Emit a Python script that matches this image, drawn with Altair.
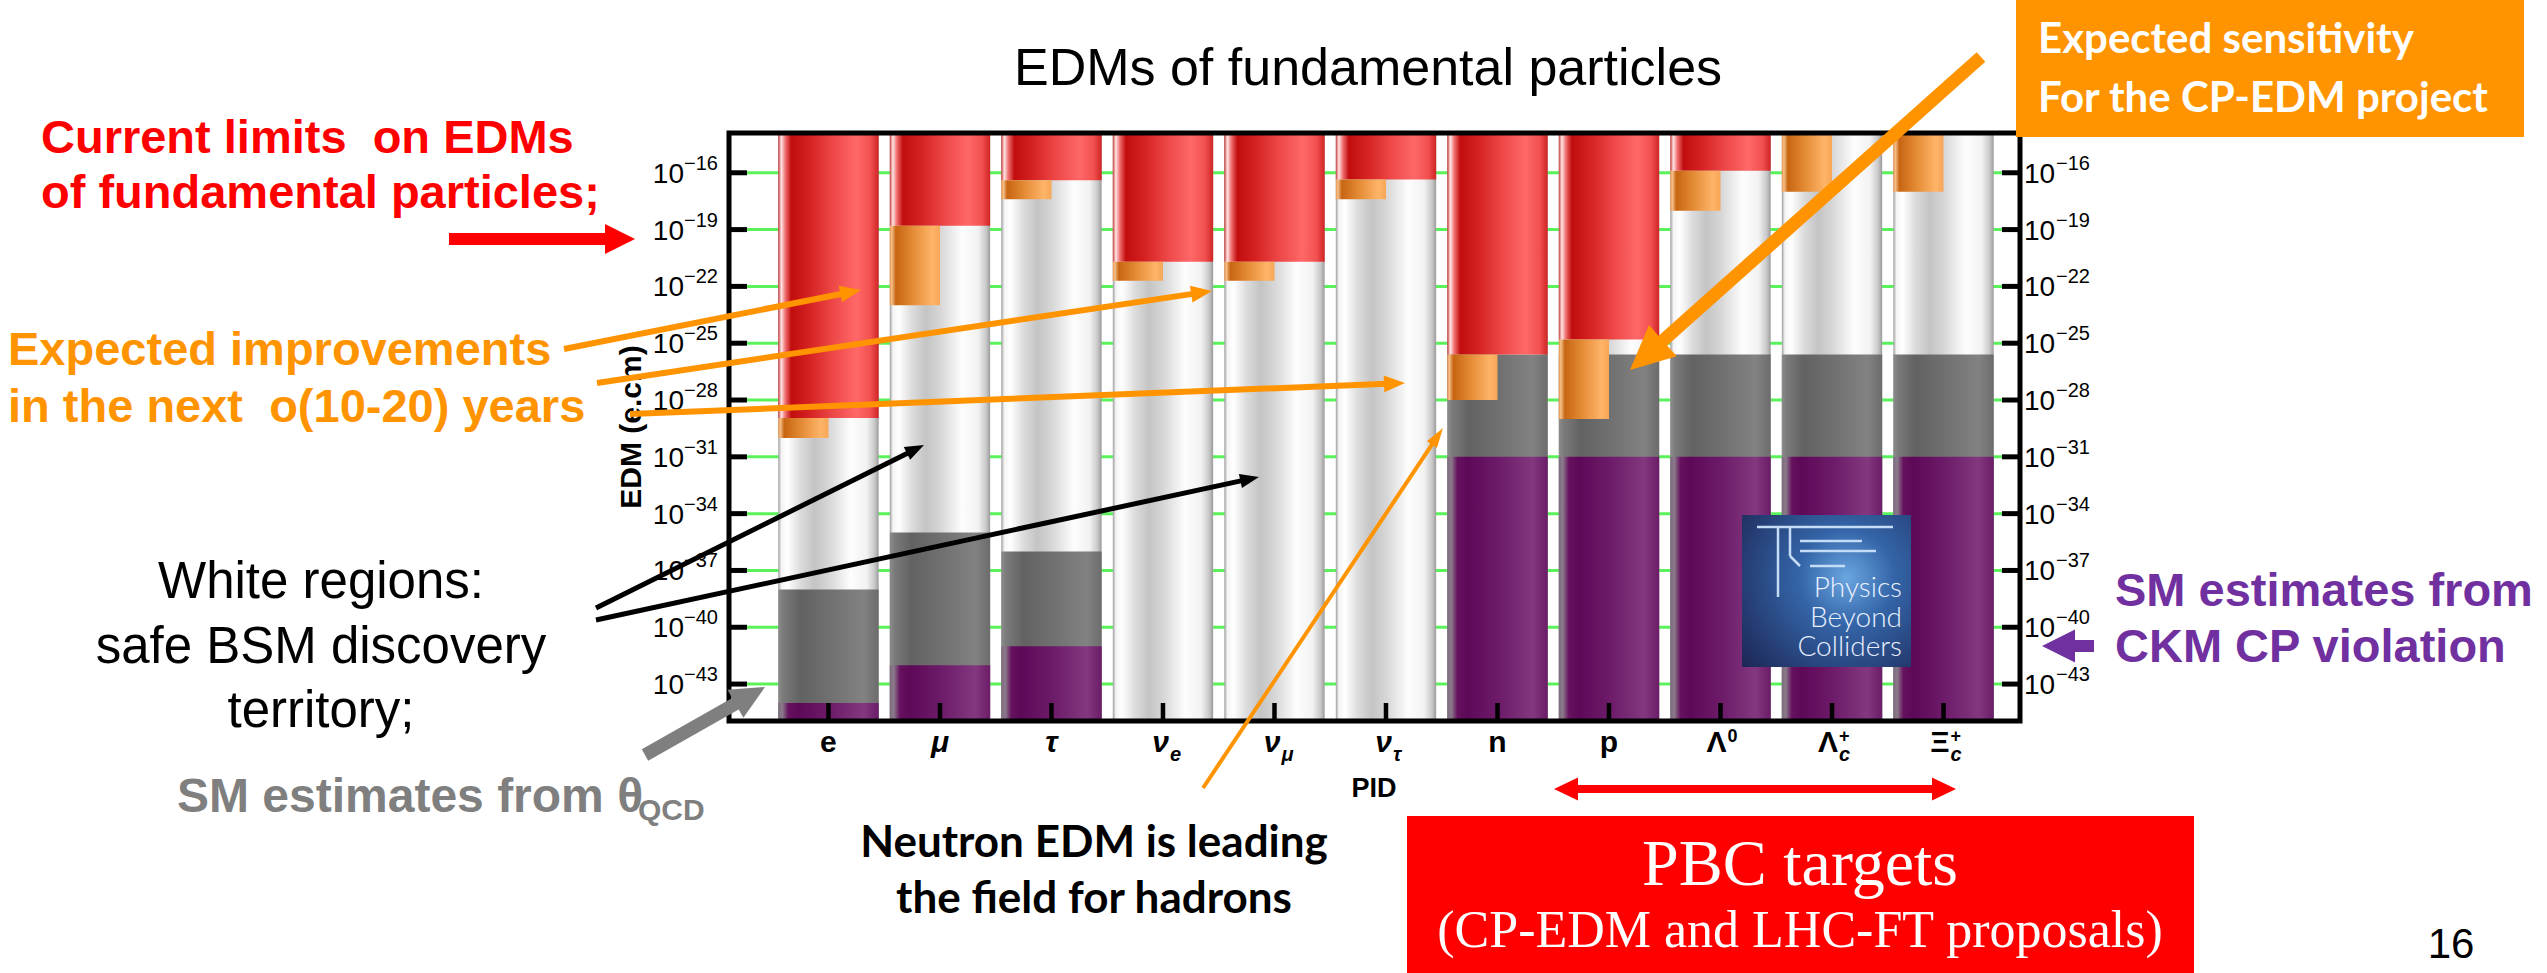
import math
import altair as alt
import pandas as pd

# ------------------------------------------------------------------ data
particles = ["e", "mu", "tau", "nu_e", "nu_mu", "nu_tau", "n", "p",
             "Lambda0", "Lambda_c+", "Xi_c+"]
label_base = ["e", "μ", "τ", "ν", "ν", "ν", "n", "p", "Λ", "Λ", "Ξ"]
label_sub = ["", "", "", "e", "μ", "τ", "", "", "", "c", "c"]
label_sup = ["", "", "", "", "", "", "", "", "0", "+", "+"]

# log10 of the EDM in e·cm (None: no entry for that particle)
current_limit = [-28.95, -18.8, -16.4, -20.7, -20.7, -16.35, -25.6, -24.8, -15.9, None, None]
expected_reach = [-30.0, -23.0, -17.4, -21.7, -21.7, -17.4, -28.0, -29.0, -18.0, -17.0, -17.0]
sm_theta_qcd = [-38.0, -35.0, -36.0, None, None, None, -25.6, -25.6, -25.6, -25.6, -25.6]
sm_ckm = [-44.0, -42.0, -41.0, None, None, None, -31.0, -31.0, -31.0, -31.0, -31.0]

tick_exponents = [-16, -19, -22, -25, -28, -31, -34, -37, -40, -43]

# ------------------------------------------------------------------ layout
LEFT, TOP = 729, 133          # plot origin on the page
W, H = 1291, 588              # plot area
LOG_TOP, LOG_BOTTOM = -13.9, -44.95
HALF = 0.45                   # half bar width in category units

SANS = "Liberation Sans, Arial, Helvetica, sans-serif"
HUMANIST = "Lato, Carlito, Calibri, sans-serif"
SERIF = "Liberation Serif, Times New Roman, serif"

XS = alt.Scale(domain=[0.108, 11.686], nice=False, zero=False)
YS = alt.Scale(type="log", domain=[10 ** LOG_BOTTOM, 10 ** LOG_TOP], nice=False)


def X(f):
    return alt.X(f, scale=XS, axis=None)


def Y(f):
    return alt.Y(f, scale=YS, axis=None)


def PX(f):
    return alt.X(f, scale=None, axis=None)


def PY(f):
    return alt.Y(f, scale=None, axis=None)


def hgrad(stops):
    return alt.LinearGradient(
        gradient="linear",
        stops=[alt.GradientStop(offset=o, color=c) for o, c in stops],
        x1=0, x2=1, y1=0, y2=0,
    )


WHITE = hgrad([(0, "#9c9c9c"), (0.03, "#f4f4f4"), (0.09, "#ffffff"), (0.22, "#dcdcdc"),
               (0.36, "#c4c4c4"), (0.5, "#d6d6d6"), (0.72, "#fdfdfd"), (0.88, "#f2f2f2"),
               (0.96, "#c8c8c8"), (1, "#9a9a9a")])
RED = hgrad([(0, "#c83a3a"), (0.03, "#ffe6e6"), (0.07, "#f07070"), (0.13, "#c10d0d"),
             (0.3, "#d42020"), (0.55, "#ee4848"), (0.78, "#ff6868"), (0.92, "#f25050"),
             (1, "#d02424")])
ORANGE = hgrad([(0, "#e89048"), (0.04, "#f6c08a"), (0.12, "#c76512"), (0.45, "#e38a34"),
                (0.85, "#ffb468"), (1, "#f7a656")])
GRAY = hgrad([(0, "#8c8c8c"), (0.05, "#7a7a7a"), (0.22, "#626262"), (0.55, "#727272"),
              (0.85, "#828282"), (1, "#6c6c6c")])
PURPLE = hgrad([(0, "#7e6c7e"), (0.04, "#8a7a8a"), (0.1, "#66125f"), (0.2, "#5e0858"),
                (0.55, "#6f1e6c"), (0.85, "#82387e"), (1, "#6c1c68")])

# ------------------------------------------------------------------ bar segments
seg_rows = []
for i in range(len(particles)):
    pos = i + 1
    full = (pos - HALF, pos + HALF)
    left_half = (pos - HALF, pos)
    seg_rows.append(("column", *full, LOG_BOTTOM, LOG_TOP))
    if sm_theta_qcd[i] is not None:
        seg_rows.append(("theta", *full, LOG_BOTTOM, sm_theta_qcd[i]))
    if sm_ckm[i] is not None:
        seg_rows.append(("ckm", *full, LOG_BOTTOM, sm_ckm[i]))
    if current_limit[i] is not None:
        seg_rows.append(("limit", *full, current_limit[i], LOG_TOP))
    upper = current_limit[i] if current_limit[i] is not None else LOG_TOP
    seg_rows.append(("reach", *left_half, expected_reach[i], upper))
seg = pd.DataFrame(seg_rows, columns=["kind", "x0", "x1", "lo", "hi"])
seg["lo"] = 10.0 ** seg["lo"]
seg["hi"] = 10.0 ** seg["hi"]


def seg_layer(kind, fill):
    return (alt.Chart(seg[seg["kind"] == kind])
            .mark_rect(color=fill)
            .encode(x=X("x0:Q"), x2="x1:Q", y=Y("lo:Q"), y2="hi:Q"))


ticks = pd.DataFrame({
    "v": [10.0 ** e for e in tick_exponents],
    "exp": ["\u2212" + str(-e) for e in tick_exponents],
})

labels = pd.DataFrame({"pos": list(range(1, len(particles) + 1)),
                       "base": label_base, "sub": label_sub, "sup": label_sup})
labels["deco"] = (labels["sub"] != "") | (labels["sup"] != "")
labels["italic"] = labels["base"].isin(["μ", "τ", "ν"])

one = pd.DataFrame({"k": [0]})

layers = []

# green grid lines behind the bars
layers.append(alt.Chart(ticks).mark_rule(color="#5af25a", strokeWidth=3)
              .encode(y=Y("v:Q"), x=alt.value(0), x2=alt.value(W)))

layers += [seg_layer("column", WHITE), seg_layer("theta", GRAY), seg_layer("ckm", PURPLE),
           seg_layer("limit", RED), seg_layer("reach", ORANGE)]

# inward ticks on both vertical axes and the category axis
layers.append(alt.Chart(ticks).mark_rule(color="black", strokeWidth=5)
              .encode(y=Y("v:Q"), x=alt.value(0), x2=alt.value(18)))
layers.append(alt.Chart(ticks).mark_rule(color="black", strokeWidth=5)
              .encode(y=Y("v:Q"), x=alt.value(W - 18), x2=alt.value(W)))
layers.append(alt.Chart(labels).mark_rule(color="black", strokeWidth=4.5)
              .encode(x=X("pos:Q"), y=alt.value(H - 18), y2=alt.value(H)))

# frame
layers.append(alt.Chart(one).mark_rect(fillOpacity=0, stroke="black", strokeWidth=5)
              .encode(x=alt.value(0), x2=alt.value(W), y=alt.value(0), y2=alt.value(H)))

# y tick labels: 10 with a raised exponent
for x10, xexp in ((-45, -45), (W + 4, W + 36)):
    align10 = "right" if x10 < 0 else "left"
    layers.append(alt.Chart(ticks).mark_text(align=align10, baseline="alphabetic", dy=10,
                                             fontSize=28, font=SANS, color="black")
                  .encode(y=Y("v:Q"), x=alt.value(x10), text=alt.value("10")))
    layers.append(alt.Chart(ticks).mark_text(align="left", baseline="alphabetic", dy=-3,
                                             fontSize=20, font=SANS, color="black")
                  .encode(y=Y("v:Q"), x=alt.value(xexp), text="exp:N"))

# particle labels
XL_BASE = 619
for italic in (False, True):
    style = "italic" if italic else "normal"
    plain = labels[(~labels["deco"]) & (labels["italic"] == italic)]
    deco = labels[(labels["deco"]) & (labels["italic"] == italic)]
    if len(plain):
        layers.append(alt.Chart(plain).mark_text(align="center", baseline="alphabetic",
                                                 fontSize=30, fontWeight="bold", fontStyle=style,
                                                 font=SANS, color="black")
                      .encode(x=X("pos:Q"), y=alt.value(XL_BASE), text="base:N"))
    if len(deco):
        layers.append(alt.Chart(deco).mark_text(align="right", baseline="alphabetic", dx=6,
                                                fontSize=30, fontWeight="bold", fontStyle=style,
                                                font=SANS, color="black")
                      .encode(x=X("pos:Q"), y=alt.value(XL_BASE), text="base:N"))
layers.append(alt.Chart(labels[labels["sub"] != ""])
              .mark_text(align="left", baseline="alphabetic", dx=7, fontSize=20,
                         fontWeight="bold", fontStyle="italic", font=SANS, color="black")
              .encode(x=X("pos:Q"), y=alt.value(XL_BASE + 9), text="sub:N"))
layers.append(alt.Chart(labels[labels["sup"] != ""])
              .mark_text(align="left", baseline="alphabetic", dx=7, fontSize=18,
                         fontWeight="bold", font=SANS, color="black")
              .encode(x=X("pos:Q"), y=alt.value(XL_BASE - 10), text="sup:N"))


# ------------------------------------------------------------------ annotations
def boxes(rows, fill):
    df = pd.DataFrame(rows, columns=["X0", "Y0", "X1", "Y1"])
    df["px0"], df["px1"] = df["X0"] - LEFT, df["X1"] - LEFT
    df["py0"], df["py1"] = df["Y0"] - TOP, df["Y1"] - TOP
    return (alt.Chart(df).mark_rect(color=fill)
            .encode(x=PX("px0:Q"), x2="px1:Q", y=PY("py0:Q"), y2="py1:Q"))


def texts(rows, **style):
    df = pd.DataFrame(rows, columns=["t", "X", "Y"])
    df["px"] = df["X"] - LEFT
    df["py"] = df["Y"] - TOP
    return (alt.Chart(df).mark_text(baseline="alphabetic", **style)
            .encode(x=PX("px:Q"), y=PY("py:Q"), text="t:N"))


layers.append(boxes([(2016, 0, 2524, 137)], "#ff9400"))
layers.append(boxes([(1407, 816, 2194, 980)], "#ff0000"))

# Physics Beyond Colliders badge
badge_fill = alt.RadialGradient(
    gradient="radial",
    stops=[alt.GradientStop(offset=0, color="#6aa6e0"),
           alt.GradientStop(offset=0.35, color="#3465a8"),
           alt.GradientStop(offset=1, color="#1d2756")],
    x1=0.62, y1=0.42, r1=0, x2=0.62, y2=0.42, r2=0.8,
)
layers.append(boxes([(1742, 515, 1911, 667)], badge_fill))
badge_lines = pd.DataFrame(
    [(1757, 527, 1893, 527), (1778, 527, 1778, 597), (1790, 528, 1790, 556),
     (1790, 556, 1800, 566), (1800, 541, 1862, 541), (1800, 551, 1876, 551),
     (1810, 566, 1845, 566)],
    columns=["X0", "Y0", "X1", "Y1"])
for c, off in (("X0", LEFT), ("X1", LEFT), ("Y0", TOP), ("Y1", TOP)):
    badge_lines["p" + c] = badge_lines[c] - off
layers.append(alt.Chart(badge_lines).mark_rule(color="#c4dcf6", strokeWidth=2.5)
              .encode(x=PX("pX0:Q"), y=PY("pY0:Q"), x2="pX1:Q", y2="pY1:Q"))
layers.append(texts([("Physics", 1902, 597), ("Beyond", 1902, 627), ("Colliders", 1902, 656)],
                    align="right", fontSize=28, fontWeight=300, font=HUMANIST, color="#e8f0ff"))

# axis titles and chart title
layers.append(alt.Chart(one).mark_text(angle=270, align="center", baseline="middle",
                                       fontSize=30, fontWeight="bold", font=SANS, color="black")
              .encode(x=alt.value(-97), y=alt.value(294), text=alt.value("EDM (e.cm)")))
layers.append(texts([("PID", 1374, 797)], align="center", fontSize=27, fontWeight="bold",
                    font=SANS, color="black"))
layers.append(texts([("EDMs of fundamental particles", 1368, 85)], align="center",
                    fontSize=52, font=SANS, color="black"))

layers.append(texts([("Current limits\u00a0 on EDMs", 41, 153),
                     ("of fundamental particles;", 41, 208)],
                    align="left", fontSize=47, fontWeight="bold", font=SANS, color="#ff0000"))
layers.append(texts([("Expected improvements", 8, 365),
                     ("in the next\u00a0 o(10-20) years", 8, 422)],
                    align="left", fontSize=47, fontWeight="bold", font=SANS, color="#ff9400"))
layers.append(texts([("White regions:", 321, 598), ("safe BSM discovery", 321, 663),
                     ("territory;", 321, 727)],
                    align="center", fontSize=51, font=SANS, color="black"))
layers.append(texts([("SM estimates from θ", 177, 812)], align="left", fontSize=48,
                    fontWeight="bold", font=SANS, color="#7f7f7f"))
layers.append(texts([("QCD", 638, 820)], align="left", fontSize=30, fontWeight="bold",
                    font=SANS, color="#7f7f7f"))
layers.append(texts([("SM estimates from", 2115, 606), ("CKM CP violation", 2115, 662)],
                    align="left", fontSize=47, fontWeight="bold", font=SANS, color="#7030a0"))
layers.append(texts([("Expected sensitivity", 2038, 53), ("For the CP-EDM project", 2038, 112)],
                    align="left", fontSize=42, fontWeight="bold", font=HUMANIST, color="white"))
layers.append(texts([("Neutron EDM is leading", 1094, 857), ("the field for hadrons", 1094, 913)],
                    align="center", fontSize=44, fontWeight="bold", font=HUMANIST, color="black"))
layers.append(texts([("PBC targets", 1800, 885)], align="center", fontSize=66, font=SERIF,
                    color="white"))
layers.append(texts([("(CP-EDM and LHC-FT proposals)", 1800, 947)], align="center",
                    fontSize=52, font=SERIF, color="white"))
layers.append(texts([("16", 2451, 958)], align="center", fontSize=42, font=SANS, color="black"))

# arrows: colour, start, tip, shaft width, head length, head half-width ratio
arrows = [
    ("#ff0000", 449, 239, 635, 239, 12, 30, 1.0),
    ("#ff9400", 564, 349, 861, 290, 6, 21, 0.8),
    ("#ff9400", 597, 383, 1212, 291, 6, 21, 0.8),
    ("#ff9400", 630, 414, 1405, 383, 6, 21, 0.8),
    ("#ff9400", 1203, 788, 1443, 428, 4, 20, 0.6),
    ("#ff9400", 1981, 57, 1630, 370, 13, 44, 0.95),
    ("#000000", 596, 608, 924, 445, 5, 19, 0.75),
    ("#000000", 596, 620, 1259, 477, 5, 19, 0.75),
    ("#7f7f7f", 645, 755, 765, 687, 13, 34, 0.95),
    ("#7030a0", 2094, 646, 2042, 646, 12, 33, 1.0),
    ("#ff0000", 1755, 789, 1554, 789, 8, 24, 0.95),
    ("#ff0000", 1755, 789, 1956, 789, 8, 24, 0.95),
]
shafts, heads = [], []
for c, x0, y0, x1, y1, w, L, hw in arrows:
    dx, dy = x1 - x0, y1 - y0
    n = math.hypot(dx, dy)
    ux, uy = dx / n, dy / n
    shafts.append(dict(c=c, w=w, sx0=x0 - LEFT, sy0=y0 - TOP,
                       sx1=x1 - ux * L * 0.85 - LEFT, sy1=y1 - uy * L * 0.85 - TOP))
    heads.append(dict(c=c, hx=x1 - ux * L / 2 - LEFT, hy=y1 - uy * L / 2 - TOP,
                      ang=math.degrees(math.atan2(ux, -uy)) % 360, sz=L * L,
                      path=f"M0,-1L{hw},1L{-hw},1Z"))
layers.append(alt.Chart(pd.DataFrame(shafts)).mark_rule(strokeCap="butt")
              .encode(x=PX("sx0:Q"), y=PY("sy0:Q"), x2="sx1:Q", y2="sy1:Q",
                      strokeWidth=alt.StrokeWidth("w:Q", scale=None, legend=None),
                      color=alt.Color("c:N", scale=None, legend=None)))
layers.append(alt.Chart(pd.DataFrame(heads)).mark_point(filled=True, opacity=1, strokeWidth=0)
              .encode(x=PX("hx:Q"), y=PY("hy:Q"),
                      shape=alt.Shape("path:N", scale=None, legend=None),
                      angle=alt.Angle("ang:Q", scale=None),
                      size=alt.Size("sz:Q", scale=None, legend=None),
                      color=alt.Color("c:N", scale=None, legend=None)))

chart = (
    alt.layer(*layers)
    .resolve_scale(x="independent", y="independent", color="independent")
    .properties(width=W, height=H,
                padding={"left": LEFT, "top": TOP, "right": 2547 - LEFT - W,
                         "bottom": 973 - TOP - H},
                autosize=alt.AutoSizeParams(type="none"),
                background="white")
    .configure_view(strokeWidth=0)
)

chart.save("out.html", embed_options={"renderer": "svg", "actions": False})
